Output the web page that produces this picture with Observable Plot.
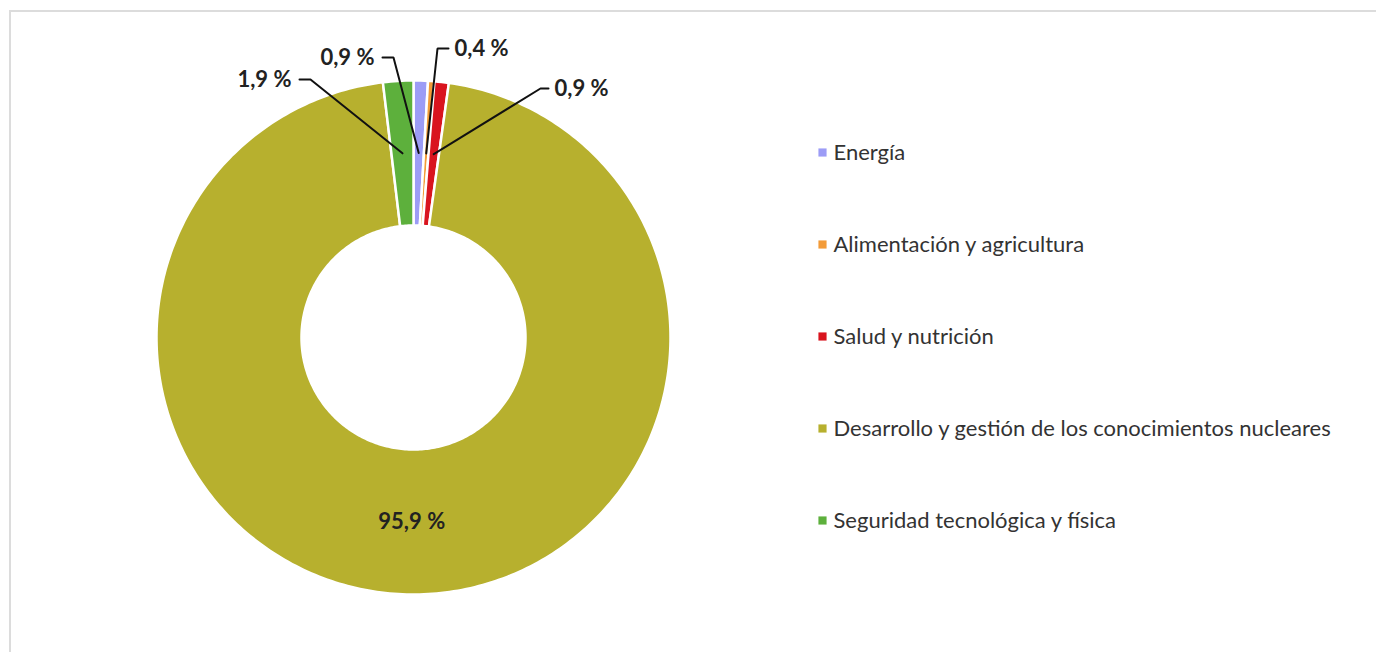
<!DOCTYPE html>
<html>
<head>
<meta charset="utf-8">
<script src="https://cdn.jsdelivr.net/npm/d3@7"></script>
<script src="https://cdn.jsdelivr.net/npm/@observablehq/plot@0.6"></script>
<style>
  html, body { margin: 0; padding: 0; background: #fff; overflow: hidden; }
  #wrap { position: relative; width: 1376px; height: 652px; }
  #frame { position: absolute; left: 9px; top: 10px; width: 1400px; height: 700px;
           border-left: 2px solid #dcdcdc; border-top: 2px solid #dcdcdc; box-sizing: border-box; }
  #donut, #legend { position: absolute; top: 0; }
  #donut { left: 0; }
  #legend { left: 800px; }
</style>
</head>
<body>
<div id="wrap"><div id="frame"></div><div id="donut"></div><div id="legend"></div></div>
<script>
// ---- data ----
const categories = [
  "Energía",
  "Alimentación y agricultura",
  "Salud y nutrición",
  "Desarrollo y gestión de los conocimientos nucleares",
  "Seguridad tecnológica y física"
];
const shares = [0.9, 0.4, 0.9, 95.9, 1.9];
const shareLabels = ["0,9 %", "0,4 %", "0,9 %", "95,9 %", "1,9 %"];
const colors = ["#9c9cf6", "#f39b38", "#d9141e", "#b7b02e", "#5db03c"];

// ---- layout (pixels) ----
const cx = 413, cy = 337, ro = 257, ri = 112;
const k = ri / ro;
const font = "Lato, 'Open Sans', sans-serif";
// callout elbows/ends for the small slices (page pixels), null = inside label
const callouts = [
  {elbow: [393, 57], end: [382, 57], side: "end"},
  {elbow: [437, 48], end: [448, 48], side: "start"},
  {elbow: [540, 88], end: [548, 88], side: "start"},
  null,
  {elbow: [310, 79], end: [299, 79], side: "end"}
];
const ux = px => (px - cx) / ro;
const uy = py => (py - cy) / ro;

const rows = categories.map((c, i) => ({cat: c, share: shares[i], label: shareLabels[i], i}));
const arcs = d3.pie().sort(null).value(d => d.share)(rows);

// slice polygons
const poly = [];
for (const a of arcs) {
  const n = Math.max(4, Math.ceil((a.endAngle - a.startAngle) * 60));
  for (let j = 0; j <= n; j++) {
    const t = a.startAngle + (a.endAngle - a.startAngle) * j / n;
    poly.push({cat: a.data.cat, x: Math.sin(t), y: -Math.cos(t)});
  }
  for (let j = n; j >= 0; j--) {
    const t = a.startAngle + (a.endAngle - a.startAngle) * j / n;
    poly.push({cat: a.data.cat, x: k * Math.sin(t), y: -k * Math.cos(t)});
  }
}

// leader lines and labels
const leaders = [], outLabels = [], inLabels = [];
const rm = (1 + k) / 2;
for (const a of arcs) {
  const mid = (a.startAngle + a.endAngle) / 2;
  const ax = rm * Math.sin(mid), ay = -rm * Math.cos(mid);
  const c = callouts[a.data.i];
  if (c) {
    leaders.push({id: a.data.i, x: ax, y: ay});
    leaders.push({id: a.data.i, x: ux(c.elbow[0]), y: uy(c.elbow[1])});
    leaders.push({id: a.data.i, x: ux(c.end[0]), y: uy(c.end[1])});
    outLabels.push({x: ux(c.end[0]), y: uy(c.end[1]), label: a.data.label, side: c.side});
  } else {
    inLabels.push({x: ax, y: ay, label: a.data.label});
  }
}

const donut = Plot.plot({
  width: 760, height: 652,
  margin: 0,
  style: {fontFamily: font, background: "transparent", overflow: "visible"},
  x: {domain: [-1, 1], range: [cx - ro, cx + ro], axis: null},
  y: {domain: [-1, 1], range: [cy - ro, cy + ro], axis: null},
  color: {domain: categories, range: colors},
  marks: [
    Plot.line(poly, {x: "x", y: "y", z: "cat", fill: "cat", stroke: "white", strokeWidth: 2.5, curve: "linear-closed"}),
    Plot.line(leaders, {x: "x", y: "y", z: "id", stroke: "#111", strokeWidth: 2, strokeLinejoin: "miter"}),
    Plot.text(outLabels.filter(d => d.side === "start"), {x: "x", y: "y", text: "label", textAnchor: "start", dx: 6, fontSize: 22, fontWeight: "bold", fill: "#222"}),
    Plot.text(outLabels.filter(d => d.side === "end"), {x: "x", y: "y", text: "label", textAnchor: "end", dx: -8, fontSize: 22, fontWeight: "bold", fill: "#222"}),
    Plot.text(inLabels, {x: "x", y: "y", text: "label", fontSize: 22, fontWeight: "bold", fill: "#222"})
  ]
});
document.getElementById("donut").appendChild(donut);

const legend = Plot.plot({
  width: 570, height: 652,
  margin: 0,
  style: {fontFamily: font, background: "transparent", overflow: "visible"},
  x: {domain: [0, 1], range: [22, 33], axis: null},
  y: {type: "point", domain: categories, range: [152, 520], padding: 0, axis: null},
  color: {domain: categories, range: colors},
  marks: [
    Plot.dot(categories, {x: () => 0, y: d => d, fill: d => d, symbol: "square", r: 4.6}),
    Plot.text(categories, {x: () => 1, y: d => d, text: d => d, textAnchor: "start", fontSize: 22, fill: "#333"})
  ]
});
document.getElementById("legend").appendChild(legend);
</script>
</body>
</html>
